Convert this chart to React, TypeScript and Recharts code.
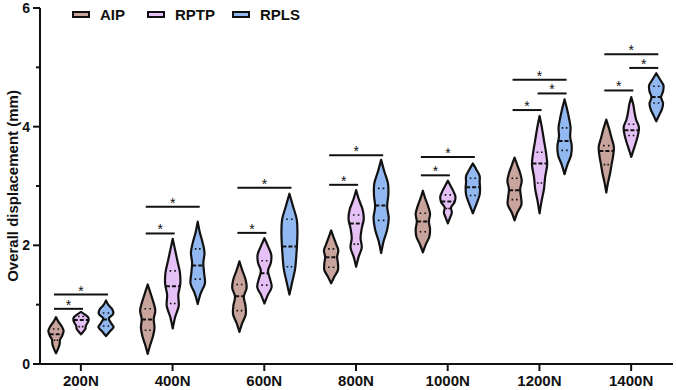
import { BarChart, Bar, XAxis, YAxis } from 'recharts'

const CATEGORIES = ['200N', '400N', '600N', '800N', '1000N', '1200N', '1400N']

type ViolinStats = { lo: number; hi: number; q1: number; med: number; q3: number; w: number[] }

// w = half-width profile (fraction of the slot), sampled evenly from lo to hi
const AIP: ViolinStats[] = [
  { lo: 0.18, hi: 0.79, q1: 0.4, med: 0.5, q3: 0.59, w: [0, 0.25, 0.45, 0.5, 0.8, 0.95, 0.7, 0.3, 0] },
  { lo: 0.17, hi: 1.34, q1: 0.57, med: 0.75, q3: 0.93, w: [0, 0.3, 0.65, 0.85, 0.75, 0.95, 0.7, 0.35, 0] },
  { lo: 0.54, hi: 1.73, q1: 0.9, med: 1.14, q3: 1.34, w: [0, 0.35, 0.8, 0.75, 0.55, 0.9, 0.75, 0.35, 0] },
  { lo: 1.36, hi: 2.25, q1: 1.63, med: 1.8, q3: 1.94, w: [0, 0.4, 0.85, 0.85, 0.75, 0.9, 0.6, 0.3, 0] },
  { lo: 1.88, hi: 2.92, q1: 2.23, med: 2.4, q3: 2.54, w: [0, 0.35, 0.8, 0.9, 0.75, 0.9, 0.65, 0.3, 0] },
  { lo: 2.42, hi: 3.48, q1: 2.77, med: 2.93, q3: 3.13, w: [0, 0.35, 0.85, 0.8, 0.7, 0.9, 0.7, 0.35, 0] },
  { lo: 2.89, hi: 4.12, q1: 3.36, med: 3.59, q3: 3.68, w: [0, 0.2, 0.45, 0.65, 0.85, 0.95, 0.65, 0.35, 0] },
]

const RPTP: ViolinStats[] = [
  { lo: 0.5, hi: 0.88, q1: 0.63, med: 0.74, q3: 0.8, w: [0, 0.3, 0.55, 0.6, 0.8, 0.95, 0.9, 0.5, 0] },
  { lo: 0.6, hi: 2.11, q1: 1.02, med: 1.31, q3: 1.57, w: [0, 0.3, 0.75, 0.7, 0.95, 0.9, 0.6, 0.3, 0] },
  { lo: 1.02, hi: 2.12, q1: 1.33, med: 1.53, q3: 1.74, w: [0, 0.4, 0.9, 0.7, 0.45, 0.8, 0.85, 0.45, 0] },
  { lo: 1.64, hi: 2.93, q1: 2.02, med: 2.37, q3: 2.51, w: [0, 0.3, 0.7, 0.55, 0.7, 0.95, 0.8, 0.35, 0] },
  { lo: 2.37, hi: 3.09, q1: 2.62, med: 2.74, q3: 2.85, w: [0, 0.25, 0.5, 0.4, 0.85, 0.95, 0.7, 0.35, 0] },
  { lo: 2.54, hi: 4.18, q1: 3.05, med: 3.38, q3: 3.57, w: [0, 0.25, 0.55, 0.7, 0.95, 0.8, 0.55, 0.3, 0] },
  { lo: 3.49, hi: 4.5, q1: 3.85, med: 3.94, q3: 4.04, w: [0, 0.3, 0.6, 0.85, 0.95, 0.6, 0.4, 0.25, 0] },
]

const RPLS: ViolinStats[] = [
  { lo: 0.47, hi: 1.07, q1: 0.64, med: 0.75, q3: 0.86, w: [0, 0.45, 0.95, 0.6, 0.35, 0.9, 0.8, 0.3, 0] },
  { lo: 1.01, hi: 2.4, q1: 1.43, med: 1.66, q3: 1.94, w: [0, 0.35, 0.9, 0.8, 0.7, 0.85, 0.6, 0.25, 0] },
  { lo: 1.17, hi: 2.87, q1: 1.64, med: 1.98, q3: 2.44, w: [0, 0.35, 0.7, 0.85, 0.95, 1, 0.9, 0.45, 0] },
  { lo: 1.87, hi: 3.44, q1: 2.42, med: 2.67, q3: 2.96, w: [0, 0.3, 0.75, 0.95, 0.75, 0.9, 0.85, 0.4, 0] },
  { lo: 2.54, hi: 3.38, q1: 2.84, med: 2.98, q3: 3.13, w: [0, 0.3, 0.6, 0.85, 0.9, 0.85, 0.85, 0.45, 0] },
  { lo: 3.2, hi: 4.46, q1: 3.6, med: 3.76, q3: 3.98, w: [0, 0.35, 0.8, 0.9, 0.7, 0.75, 0.55, 0.3, 0] },
  { lo: 4.09, hi: 4.9, q1: 4.4, med: 4.5, q3: 4.68, w: [0, 0.35, 0.7, 0.85, 0.6, 0.85, 0.9, 0.45, 0] },
]

const SERIES = [
  { key: 'AIP', color: '#c9a49c', stats: AIP },
  { key: 'RPTP', color: '#e6c1f5', stats: RPTP },
  { key: 'RPLS', color: '#92b8f1', stats: RPLS },
]

// significance bars: category index, from series index, to series index, height (mm)
const BRACKETS = [
  { cat: 0, from: 0, to: 1, y: 0.93 },
  { cat: 0, from: 0, to: 2, y: 1.17 },
  { cat: 1, from: 0, to: 1, y: 2.2 },
  { cat: 1, from: 0, to: 2, y: 2.65 },
  { cat: 2, from: 0, to: 1, y: 2.21 },
  { cat: 2, from: 0, to: 2, y: 2.97 },
  { cat: 3, from: 0, to: 1, y: 3.02 },
  { cat: 3, from: 0, to: 2, y: 3.52 },
  { cat: 4, from: 0, to: 1, y: 3.18 },
  { cat: 4, from: 0, to: 2, y: 3.49 },
  { cat: 5, from: 0, to: 1, y: 4.28 },
  { cat: 5, from: 1, to: 2, y: 4.56 },
  { cat: 5, from: 0, to: 2, y: 4.79 },
  { cat: 6, from: 0, to: 1, y: 4.61 },
  { cat: 6, from: 1, to: 2, y: 4.99 },
  { cat: 6, from: 0, to: 2, y: 5.22 },
]

const Y_TICKS = [0, 1, 2, 3, 4, 5, 6]
const LEGEND_X = [72, 147, 232]

const BAR_SIZE = 16
const BAR_GAP = 9
const INK = '#111'
const FONT = '"Liberation Sans", Arial, Helvetica, sans-serif'

const rows = CATEGORIES.map((name, i) => {
  const row: Record<string, unknown> = { name }
  SERIES.forEach((s) => {
    row[s.key] = [s.stats[i].lo, s.stats[i].hi]
  })
  return row
})

type Pt = [number, number]

// open Catmull-Rom spline through the points, as cubic segments
function spline(pts: Pt[], move: boolean) {
  let d = move ? `M${pts[0][0]},${pts[0][1]}` : `L${pts[0][0]},${pts[0][1]}`
  for (let i = 0; i < pts.length - 1; i++) {
    const p0 = pts[Math.max(i - 1, 0)]
    const p1 = pts[i]
    const p2 = pts[i + 1]
    const p3 = pts[Math.min(i + 2, pts.length - 1)]
    const c1: Pt = [p1[0] + (p2[0] - p0[0]) / 6, p1[1] + (p2[1] - p0[1]) / 6]
    const c2: Pt = [p2[0] - (p3[0] - p1[0]) / 6, p2[1] - (p3[1] - p1[1]) / 6]
    d += ` C${c1[0]},${c1[1]} ${c2[0]},${c2[1]} ${p2[0]},${p2[1]}`
  }
  return d
}

function widthAt(s: ViolinStats, v: number) {
  const t = ((v - s.lo) / (s.hi - s.lo)) * (s.w.length - 1)
  const k = Math.min(Math.floor(t), s.w.length - 2)
  const f = t - k
  return s.w[k] * (1 - f) + s.w[k + 1] * f
}

function ViolinShape(props: any) {
  const { x, y, width, height, payload, seriesIndex } = props
  const series = SERIES[seriesIndex]
  const cat = CATEGORIES.indexOf(payload.name)
  const s = series.stats[cat]
  const top = Math.min(y, y + height)
  const bottom = Math.max(y, y + height)
  const yOf = (v: number) => bottom - ((v - s.lo) / (s.hi - s.lo)) * (bottom - top)
  const cx = x + width / 2
  const hw = width / 2
  const n = s.w.length
  const level = (k: number) => s.lo + (k * (s.hi - s.lo)) / (n - 1)

  const left: Pt[] = s.w.map((w, k) => [cx - hw * w, yOf(level(k))])
  const right: Pt[] = s.w.map((w, k) => [cx + hw * w, yOf(level(k))]).reverse() as Pt[]
  const outline = spline(left, true) + ' ' + spline(right, false) + ' Z'

  const median = hw * widthAt(s, s.med) * 0.95
  const quartile = (v: number) => {
    const half = hw * widthAt(s, v) * 0.9
    const len = 2 * half
    const gap = Math.max((len - 3.2) / 3, 0.5)
    return (
      <line
        x1={cx - half}
        x2={cx + half}
        y1={yOf(v)}
        y2={yOf(v)}
        stroke={INK}
        strokeWidth={1.6}
        strokeDasharray={`0 ${gap} 1.6 0`}
      />
    )
  }

  const step = width + BAR_GAP
  const brackets = BRACKETS.filter((b) => b.cat === cat && b.from === seriesIndex)

  return (
    <g>
      <path d={outline} fill={series.color} stroke={INK} strokeWidth={2.2} strokeLinejoin="round" />
      <line
        x1={cx - median}
        x2={cx + median}
        y1={yOf(s.med)}
        y2={yOf(s.med)}
        stroke={INK}
        strokeWidth={2}
        strokeDasharray="4 2"
      />
      {quartile(s.q1)}
      {quartile(s.q3)}
      {brackets.map((b, i) => {
        const x2 = cx + (b.to - b.from) * step
        const by = yOf(b.y)
        return (
          <g key={i}>
            <line x1={cx - 2} x2={x2 + 2} y1={by} y2={by} stroke={INK} strokeWidth={2} />
            <text
              x={(cx + x2) / 2}
              y={by + 1}
              textAnchor="middle"
              fontFamily={FONT}
              fontSize={14}
              fill={INK}
            >
              *
            </text>
          </g>
        )
      })}
    </g>
  )
}

function YTick(props: any) {
  const { x, y, payload } = props
  const major = payload.value % 2 === 0
  return (
    <g>
      <line x1={x - (major ? 7 : 4)} x2={x} y1={y} y2={y} stroke={INK} strokeWidth={2} />
      {major && (
        <text
          x={x - 10}
          y={y}
          dy={5}
          textAnchor="end"
          fontFamily={FONT}
          fontWeight="bold"
          fontSize={14}
          fill={INK}
        >
          {payload.value}
        </text>
      )}
    </g>
  )
}

function LegendRow() {
  return (
    <div style={{ position: 'absolute', left: 0, top: 0, width: 676, height: 30 }}>
      {SERIES.map((s, i) => (
        <div
          key={s.key}
          style={{
            position: 'absolute',
            left: LEGEND_X[i],
            top: 5,
            height: 18,
            display: 'flex',
            alignItems: 'center',
            fontFamily: FONT,
            fontWeight: 'bold',
            fontSize: 15,
            color: INK,
          }}
        >
          <span
            style={{
              display: 'inline-block',
              boxSizing: 'border-box',
              width: 18,
              height: 7,
              background: s.color,
              border: `2px solid ${INK}`,
              marginRight: 10,
            }}
          />
          {s.key}
        </div>
      ))}
    </div>
  )
}

export default function App() {
  return (
    <div style={{ position: 'absolute', left: 0, top: 0, width: 676, height: 390, background: '#fff' }}>
      <BarChart
        width={676}
        height={390}
        data={rows}
        margin={{ top: 8, right: 3, bottom: 0, left: 0 }}
        barSize={BAR_SIZE}
        barGap={BAR_GAP}
      >
        <XAxis
          dataKey="name"
          height={26}
          padding={{ left: -5, right: -4 }}
          axisLine={{ stroke: INK, strokeWidth: 2 }}
          tickLine={{ stroke: INK, strokeWidth: 2 }}
          tickSize={7}
          tickMargin={4}
          tick={{ fill: INK, fontFamily: FONT, fontWeight: 'bold', fontSize: 15 }}
          interval={0}
        />
        <YAxis
          type="number"
          domain={[0, 6]}
          ticks={Y_TICKS}
          interval={0}
          width={40}
          tickSize={0}
          tickMargin={0}
          tickLine={false}
          axisLine={{ stroke: INK, strokeWidth: 2 }}
          tick={<YTick />}
          label={{
            value: 'Overall displacement (mm)',
            angle: -90,
            position: 'insideLeft',
            offset: 13,
            style: { textAnchor: 'middle', fontFamily: FONT, fontWeight: 'bold', fontSize: 15, fill: INK },
          }}
        />
        {SERIES.map((s, si) => (
          <Bar
            key={s.key}
            dataKey={s.key}
            isAnimationActive={false}
            shape={(p: any) => <ViolinShape {...p} seriesIndex={si} />}
          />
        ))}
      </BarChart>
      <LegendRow />
    </div>
  )
}
